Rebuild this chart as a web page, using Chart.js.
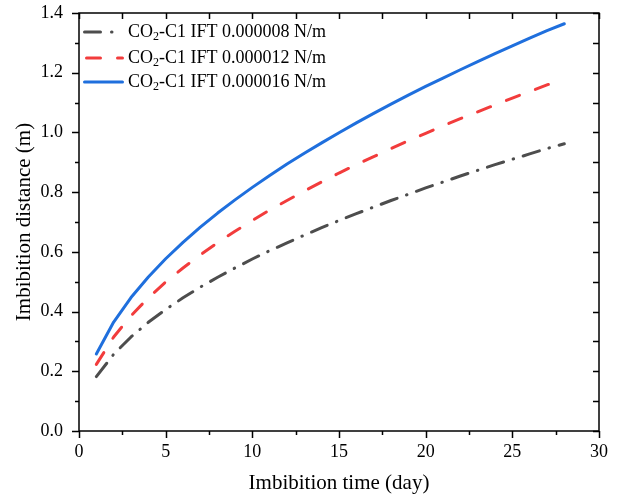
<!DOCTYPE html>
<html>
<head>
<meta charset="utf-8">
<script src="https://cdn.jsdelivr.net/npm/chart.js@4.4.0/dist/chart.umd.min.js"></script>
<style>
  html, body { margin: 0; padding: 0; background: #fff; }
</style>
</head>
<body>
<canvas id="chart" width="620" height="500"></canvas>
<script>
const days = [1, 2, 3, 4, 5, 6, 7, 8, 9, 10, 11, 12, 13, 14, 15, 16, 17, 18, 19, 20, 21, 22, 23, 24, 25, 26, 27, 28];

const ift08 = [0.182, 0.257, 0.315, 0.364, 0.407, 0.446, 0.482, 0.515, 0.546, 0.576, 0.604, 0.630, 0.656, 0.681,
               0.705, 0.728, 0.750, 0.772, 0.793, 0.814, 0.834, 0.854, 0.873, 0.892, 0.910, 0.928, 0.946, 0.962];
const ift12 = [0.223, 0.315, 0.386, 0.446, 0.499, 0.546, 0.590, 0.631, 0.669, 0.705, 0.740, 0.772, 0.804, 0.834,
               0.864, 0.892, 0.919, 0.946, 0.972, 0.997, 1.022, 1.046, 1.069, 1.092, 1.115, 1.137, 1.159, 1.180];
const ift16 = [0.258, 0.365, 0.447, 0.516, 0.577, 0.632, 0.683, 0.730, 0.774, 0.816, 0.856, 0.894, 0.930, 0.965,
               0.999, 1.032, 1.064, 1.095, 1.125, 1.154, 1.182, 1.210, 1.237, 1.264, 1.290, 1.316, 1.341, 1.364];

const seriesLabels = ['-C1 IFT 0.000008 N/m', '-C1 IFT 0.000012 N/m', '-C1 IFT 0.000016 N/m'];
const xTicks = [0, 5, 10, 15, 20, 25, 30];
const yTicks = [0, 0.2, 0.4, 0.6, 0.8, 1.0, 1.2, 1.4];

const FONT = '"Liberation Serif", "Times New Roman", serif';
const colors = ['#4d4d4d', '#f23c3c', '#1f6fdd'];
const dashes = [[17, 10, 0.5, 10], [14, 17], []];

function toPoints(vals) {
    return days.map((d, i) => ({ x: d, y: vals[i] }));
}

// ticks on all four sides + frame + legend
const framePlugin = {
    id: 'frame',
    afterDraw(chart) {
        const ctx = chart.ctx;
        const xs = chart.scales.x, ys = chart.scales.y;
        const a = chart.chartArea;
        ctx.save();
        ctx.strokeStyle = '#000';
        ctx.lineWidth = 1.5;
        ctx.beginPath();
        // x ticks: bottom outward, top inward
        for (let v = 0; v <= 30; v += 2.5) {
            const px = Math.round(xs.getPixelForValue(v)) + 0.5;
            const major = v % 5 === 0;
            ctx.moveTo(px, a.bottom);
            ctx.lineTo(px, a.bottom + (major ? 7 : 4));
            ctx.moveTo(px, a.top);
            ctx.lineTo(px, a.top + 6);
        }
        // y ticks: left outward, right inward
        for (let k = 0; k <= 14; k++) {
            const py = Math.round(ys.getPixelForValue(k / 10)) + 0.5;
            const major = k % 2 === 0;
            ctx.moveTo(a.left, py);
            ctx.lineTo(a.left - (major ? 7 : 4), py);
            ctx.moveTo(a.right, py);
            ctx.lineTo(a.right - 6, py);
        }
        ctx.stroke();
        ctx.strokeRect(a.left, a.top, a.right - a.left, a.bottom - a.top);

        // legend
        const rows = [32, 58, 82];
        rows.forEach((y, i) => {
            ctx.beginPath();
            ctx.strokeStyle = colors[i];
            ctx.lineWidth = 3;
            ctx.lineCap = 'round';
            ctx.setLineDash(i === 0 ? [16, 11, 0.5, 11] : dashes[i]);
            ctx.lineDashOffset = i === 1 ? -2 : 0;
            ctx.moveTo(84.5, y);
            ctx.lineTo(122.5, y);
            ctx.stroke();
            ctx.setLineDash([]);

            ctx.fillStyle = '#000';
            ctx.textBaseline = 'middle';
            ctx.textAlign = 'left';
            let x = 128;
            ctx.font = '18px ' + FONT;
            ctx.fillText('CO', x, y);
            x += ctx.measureText('CO').width;
            ctx.font = '12px ' + FONT;
            ctx.fillText('2', x, y + 5);
            x += ctx.measureText('2').width;
            ctx.font = '18px ' + FONT;
            ctx.fillText(seriesLabels[i], x, y);
        });
        ctx.restore();
    }
};

const datasets = [ift08, ift12, ift16].map((vals, i) => ({
    label: 'CO2' + seriesLabels[i],
    data: toPoints(vals),
    borderColor: colors[i],
    borderWidth: 3,
    borderDash: dashes[i],
    borderCapStyle: 'round',
    borderJoinStyle: 'round',
    pointRadius: 0,
    tension: 0,
    fill: false
}));

new Chart(document.getElementById('chart').getContext('2d'), {
    type: 'line',
    data: { datasets },
    options: {
        responsive: false,
        animation: false,
        devicePixelRatio: 1,
        layout: { padding: { left: 0, top: 13, right: 21, bottom: 0 } },
        plugins: {
            legend: { display: false },
            tooltip: { enabled: false }
        },
        scales: {
            x: {
                type: 'linear',
                min: 0,
                max: 30,
                afterFit: s => { s.height = 69; s.paddingLeft = 0; s.paddingRight = 0; },
                afterBuildTicks: s => { s.ticks = xTicks.map(v => ({ value: v })); },
                grid: { drawOnChartArea: false, drawTicks: false },
                border: { display: false },
                ticks: {
                    padding: 10,
                    color: '#000',
                    font: { family: FONT, size: 18 },
                    maxRotation: 0
                },
                title: {
                    display: true,
                    text: 'Imbibition time (day)',
                    color: '#000',
                    font: { family: FONT, size: 21 },
                    padding: { top: 0, bottom: 4 }
                }
            },
            y: {
                type: 'linear',
                min: 0,
                max: 1.4,
                afterFit: s => { s.width = 79; s.paddingTop = 0; s.paddingBottom = 0; },
                afterBuildTicks: s => { s.ticks = yTicks.map(v => ({ value: v })); },
                grid: { drawOnChartArea: false, drawTicks: false },
                border: { display: false },
                ticks: {
                    padding: 16,
                    color: '#000',
                    font: { family: FONT, size: 18 },
                    callback: v => v.toFixed(1)
                },
                title: {
                    display: true,
                    text: 'Imbibition distance (m)',
                    color: '#000',
                    font: { family: FONT, size: 21 },
                    padding: { top: 12, bottom: 0 }
                }
            }
        }
    },
    plugins: [framePlugin]
});
</script>
</body>
</html>
